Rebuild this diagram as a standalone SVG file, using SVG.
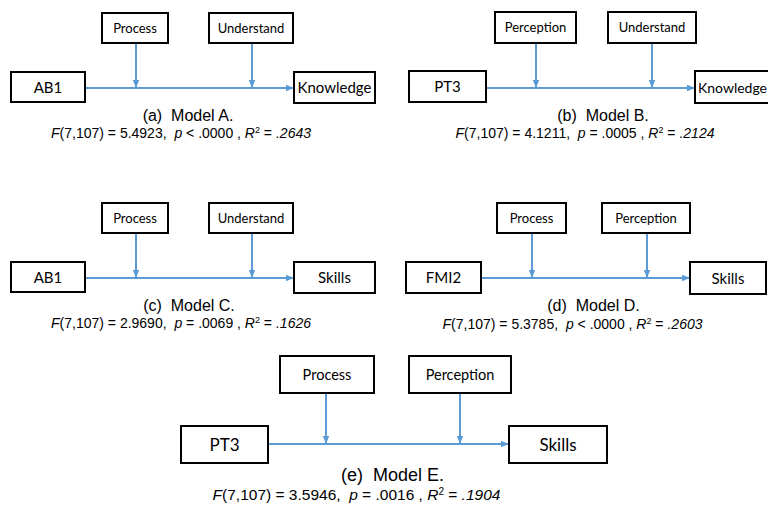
<svg xmlns="http://www.w3.org/2000/svg" width="768" height="506" viewBox="0 0 768 506">
<style>
.box{fill:#fff;stroke:#000;stroke-width:2}
.lbl{font-family:Lato,"Liberation Sans",sans-serif;font-size:13px;fill:#000;text-anchor:middle}
.big{font-size:15px}
.cap{font-family:"Liberation Sans",Arial,sans-serif;font-size:16px;fill:#000;text-anchor:middle}
.st{font-family:"Liberation Sans",Arial,sans-serif;font-size:14px;fill:#000;text-anchor:middle}
.i{font-style:italic}
.con{stroke:#5B9BD5;stroke-width:2;fill:none;marker-end:url(#ah)}
</style>
<defs>
<marker id="ah" markerUnits="userSpaceOnUse" markerWidth="8" markerHeight="8" viewBox="0 0 8 8" refX="8" refY="4" orient="auto">
<path d="M0,0.8 L8,4 L0,7.2 Z" fill="#5B9BD5"/>
</marker>
</defs>
<rect width="768" height="506" fill="#fff"/>

<g id="connectors">
<path class="con" d="M85,88 H294"/>
<path class="con" d="M136,43 V88"/>
<path class="con" d="M252,43 V88"/>
<path class="con" d="M486,88 H695"/>
<path class="con" d="M536,43 V88"/>
<path class="con" d="M652,43 V88"/>
<path class="con" d="M85,278 H294"/>
<path class="con" d="M136,233 V278"/>
<path class="con" d="M252,233 V278"/>
<path class="con" d="M481,278 H690"/>
<path class="con" d="M532,233 V278"/>
<path class="con" d="M647,233 V278"/>
<path class="con" d="M268,444 H509"/>
<path class="con" d="M326,393 V444"/>
<path class="con" d="M460,393 V444"/>
</g>

<!-- Model A -->
<g id="a-ab1"><rect class="box" x="11" y="72" width="74" height="30"/><text class="lbl big" x="48" y="92.5">AB1</text></g>
<g id="a-process"><rect class="box" x="102" y="13" width="66" height="30"/><text class="lbl" x="135" y="32.5">Process</text></g>
<g id="a-understand"><rect class="box" x="209" y="13" width="84" height="30"/><text class="lbl" x="251" y="32.5">Understand</text></g>
<g id="a-knowledge"><rect class="box" x="294" y="72" width="81" height="31"/><text class="lbl big" x="334.5" y="93">Knowledge</text></g>
<g id="a-caption">
<text class="cap" x="188" y="121" xml:space="preserve">(a)  Model A.</text>
<text class="st" x="181" y="138" xml:space="preserve"><tspan class="i">F</tspan>(7,107) = 5.4923,  <tspan class="i">p</tspan> &lt; .0000 , <tspan class="i">R</tspan><tspan font-size="9" dy="-5">2</tspan><tspan dy="5"> = </tspan><tspan class="i">.2643</tspan></text>
</g>

<!-- Model B -->
<g id="b-pt3"><rect class="box" x="409" y="71" width="77" height="31"/><text class="lbl big" x="447.5" y="92">PT3</text></g>
<g id="b-perception"><rect class="box" x="495" y="12" width="81" height="31"/><text class="lbl" x="535.5" y="32">Perception</text></g>
<g id="b-understand"><rect class="box" x="608" y="12" width="88" height="31"/><text class="lbl" x="652" y="32">Understand</text></g>
<g id="b-knowledge"><rect class="box" x="695" y="71" width="80" height="32"/><text class="lbl" style="font-size:14px;text-anchor:start" x="698" y="92.5">Knowledge</text></g>
<g id="b-caption">
<text class="cap" x="603" y="121" xml:space="preserve">(b)  Model B.</text>
<text class="st" x="585" y="138" xml:space="preserve"><tspan class="i">F</tspan>(7,107) = 4.1211,  <tspan class="i">p</tspan> = .0005 , <tspan class="i">R</tspan><tspan font-size="9" dy="-5">2</tspan><tspan dy="5"> = </tspan><tspan class="i">.2124</tspan></text>
</g>

<!-- Model C -->
<g id="c-ab1"><rect class="box" x="11" y="262" width="74" height="30"/><text class="lbl big" x="48" y="282.5">AB1</text></g>
<g id="c-process"><rect class="box" x="102" y="203" width="66" height="30"/><text class="lbl" x="135" y="222.5">Process</text></g>
<g id="c-understand"><rect class="box" x="209" y="203" width="84" height="30"/><text class="lbl" x="251" y="222.5">Understand</text></g>
<g id="c-skills"><rect class="box" x="294" y="262" width="81" height="31"/><text class="lbl big" x="334.5" y="283">Skills</text></g>
<g id="c-caption">
<text class="cap" x="189" y="311" xml:space="preserve">(c)  Model C.</text>
<text class="st" x="181" y="328" xml:space="preserve"><tspan class="i">F</tspan>(7,107) = 2.9690,  <tspan class="i">p</tspan> = .0069 , <tspan class="i">R</tspan><tspan font-size="9" dy="-5">2</tspan><tspan dy="5"> = </tspan><tspan class="i">.1626</tspan></text>
</g>

<!-- Model D -->
<g id="d-fmi2"><rect class="box" x="406" y="262" width="75" height="31"/><text class="lbl big" x="443.5" y="283">FMI2</text></g>
<g id="d-process"><rect class="box" x="497" y="203" width="69" height="30"/><text class="lbl" x="531.5" y="222.5">Process</text></g>
<g id="d-perception"><rect class="box" x="602" y="203" width="88" height="30"/><text class="lbl" x="646" y="222.5">Perception</text></g>
<g id="d-skills"><rect class="box" x="690" y="262" width="76" height="32"/><text class="lbl big" x="728" y="283.5">Skills</text></g>
<g id="d-caption">
<text class="cap" x="593.5" y="311" xml:space="preserve">(d)  Model D.</text>
<text class="st" x="572.5" y="329" xml:space="preserve"><tspan class="i">F</tspan>(7,107) = 5.3785,  <tspan class="i">p</tspan> &lt; .0000 , <tspan class="i">R</tspan><tspan font-size="9" dy="-5">2</tspan><tspan dy="5"> = </tspan><tspan class="i">.2603</tspan></text>
</g>

<!-- Model E -->
<g id="e-pt3"><rect class="box" x="181" y="426" width="87" height="37"/><text class="lbl" style="font-size:17px" x="224.5" y="450.5">PT3</text></g>
<g id="e-process"><rect class="box" x="280" y="356" width="94" height="37"/><text class="lbl" style="font-size:14.5px" x="327" y="379.5">Process</text></g>
<g id="e-perception"><rect class="box" x="409" y="356" width="102" height="37"/><text class="lbl" style="font-size:14.5px" x="460" y="379.5">Perception</text></g>
<g id="e-skills"><rect class="box" x="509" y="426" width="98" height="37"/><text class="lbl" style="font-size:17px" x="558" y="450.5">Skills</text></g>
<g id="e-caption">
<text class="cap" style="font-size:18px" x="392.5" y="481" xml:space="preserve">(e)  Model E.</text>
<text class="st" style="font-size:15.5px" x="356.5" y="500" xml:space="preserve"><tspan class="i">F</tspan>(7,107) = 3.5946,  <tspan class="i">p</tspan> = .0016 , <tspan class="i">R</tspan><tspan font-size="10" dy="-5.5">2</tspan><tspan dy="5.5"> = </tspan><tspan class="i">.1904</tspan></text>
</g>
</svg>
